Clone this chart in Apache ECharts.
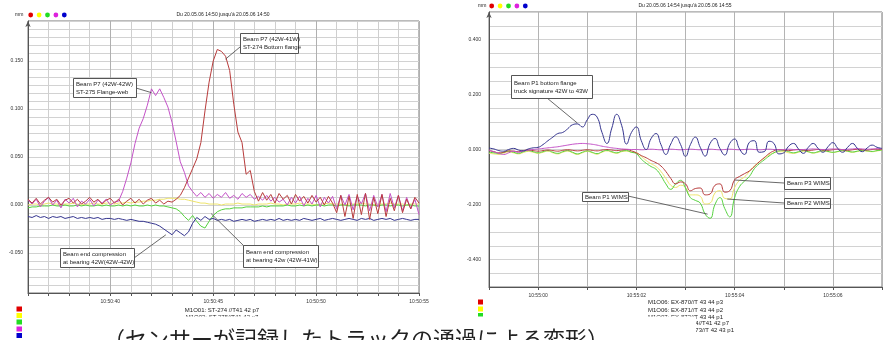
<!DOCTYPE html>
<html>
<head>
<meta charset="utf-8">
<script src="https://cdn.jsdelivr.net/npm/echarts@6/dist/echarts.min.js"></script>
<style>
  html, body { margin: 0; padding: 0; background: #fff; }
  #chart { width: 888px; height: 340px; }
</style>
</head>
<body>
<div id="chart"></div>
<script>
// left recording: 10:50:36 .. 10:50:55, one sample every 0.2 s (mm)
const leftStart = 36, leftStep = 0.2;
const leftRed = [
  0.006,0.002,0.007,0.001,0.005,0.008,0.003,0.006,0.000,0.005,
  0.007,0.002,0.006,0.001,0.004,0.008,0.003,0.006,0.001,0.005,
  0.007,0.002,0.006,0.000,0.004,0.007,0.002,0.006,0.001,0.005,
  0.007,0.002,0.005,0.001,0.004,0.003,0.006,0.010,0.018,0.028,
  0.038,0.048,0.065,0.098,0.128,0.150,0.162,0.160,0.155,0.140,
  0.105,0.076,0.065,0.032,0.036,0.014,0.004,0.013,0.005,0.011,
  0.002,0.012,0.006,0.010,0.001,0.011,0.004,0.009,0.002,0.010,
  0.003,0.008,0.000,0.009,0.002,-0.008,0.010,-0.012,0.009,-0.014,
  0.011,-0.010,0.012,-0.015,0.008,-0.009,0.011,-0.012,0.007,-0.006,
  0.010,-0.008,0.006,-0.004,0.008,0.002
];
const leftMagenta = [
  0.005,0.001,0.006,-0.002,0.004,0.008,0.000,0.005,-0.003,0.006,
  0.002,0.007,-0.002,0.004,0.001,0.006,-0.001,0.005,0.002,0.006,
  0.000,0.003,0.004,0.014,0.028,0.044,0.064,0.080,0.090,0.104,
  0.121,0.114,0.121,0.112,0.102,0.086,0.066,0.045,0.034,0.020,
  0.014,0.009,0.013,0.008,0.012,0.007,0.011,0.008,0.013,0.007,
  0.010,0.006,0.012,0.008,0.011,0.006,0.009,0.005,0.010,0.004,
  0.008,0.003,0.006,0.000,0.008,0.002,0.009,-0.001,0.007,0.001,
  0.010,-0.002,0.008,0.002,0.009,-0.004,0.010,0.000,0.011,-0.005,
  0.009,0.001,0.012,-0.006,0.010,-0.002,0.011,-0.007,0.012,-0.003,
  0.010,-0.006,0.008,-0.004,0.006,-0.010
];
const leftYellow = [
  0.000,0.001,0.001,0.000,0.001,0.002,0.001,0.001,0.000,0.001,
  0.001,0.002,0.001,0.000,0.001,0.001,0.002,0.001,0.001,0.002,
  0.002,0.001,0.002,0.002,0.003,0.002,0.003,0.003,0.004,0.004,
  0.005,0.005,0.006,0.006,0.007,0.007,0.007,0.006,0.006,0.005,
  0.004,0.003,0.002,0.002,0.001,0.001,0.001,0.000,0.001,0.001,
  0.001,0.002,0.001,0.001,0.001,0.000,0.001,0.001,0.001,0.002,
  0.001,0.001,0.000,0.001,0.001,0.001,0.002,0.001,0.001,0.001,
  0.000,0.001,0.001,0.002,0.001,0.001,0.001,0.000,0.001,0.001,
  0.001,0.002,0.001,0.001,0.000,0.001,0.001,0.001,0.002,0.001,
  0.001,0.001,0.000,0.001,0.001,0.001
];
const leftGreen = [
  -0.003,-0.002,-0.002,-0.001,-0.001,-0.001,0.000,-0.001,-0.001,0.000,
  -0.001,-0.001,0.000,-0.001,0.000,-0.001,-0.001,0.000,-0.001,0.000,
  -0.001,-0.001,0.000,-0.001,0.000,-0.001,0.000,-0.001,-0.001,0.000,
  -0.001,0.000,-0.001,-0.001,-0.002,-0.003,-0.004,-0.007,-0.012,-0.016,
  -0.011,-0.017,-0.022,-0.024,-0.017,-0.011,-0.007,-0.005,-0.004,-0.004,
  -0.003,-0.003,-0.003,-0.002,-0.002,-0.002,-0.002,-0.001,-0.002,-0.001,
  -0.001,-0.001,-0.001,0.000,-0.001,-0.001,0.000,-0.001,0.000,-0.001,
  0.000,0.000,-0.001,0.000,0.000,-0.001,0.000,0.000,-0.001,0.000,
  0.000,0.000,-0.001,0.000,0.000,-0.001,0.000,0.000,-0.001,0.000,
  0.000,-0.001,0.000,0.000,-0.001,-0.001
];
const leftBlue = [
  -0.012,-0.013,-0.011,-0.013,-0.012,-0.014,-0.012,-0.013,-0.012,-0.014,
  -0.013,-0.012,-0.014,-0.013,-0.014,-0.013,-0.014,-0.013,-0.015,-0.014,
  -0.014,-0.015,-0.014,-0.015,-0.016,-0.015,-0.016,-0.017,-0.017,-0.018,
  -0.019,-0.020,-0.022,-0.025,-0.028,-0.031,-0.026,-0.029,-0.032,-0.028,
  -0.019,-0.013,-0.016,-0.012,-0.015,-0.014,-0.016,-0.015,-0.016,-0.015,
  -0.017,-0.016,-0.015,-0.016,-0.015,-0.017,-0.016,-0.015,-0.016,-0.015,
  -0.016,-0.014,-0.016,-0.015,-0.016,-0.015,-0.016,-0.014,-0.015,-0.016,
  -0.015,-0.014,-0.016,-0.015,-0.014,-0.015,-0.016,-0.015,-0.014,-0.015,
  -0.016,-0.014,-0.015,-0.014,-0.016,-0.015,-0.014,-0.015,-0.014,-0.016,
  -0.015,-0.014,-0.015,-0.016,-0.015,-0.015
];

// right recording: 10:54:59 .. 10:55:07, one sample every 0.1 s (mm)
const rightStart = 59, rightStep = 0.1;
const rightNavy = [
  0.005,0.002,-0.004,-0.006,0.000,0.004,-0.002,-0.005,0.002,0.006,
  0.008,0.018,0.032,0.045,0.058,0.062,0.075,0.090,0.093,0.082,
  0.108,0.128,0.118,0.062,0.022,0.078,0.128,0.088,0.020,0.062,
  0.082,0.032,0.000,0.040,0.058,0.018,-0.018,0.020,0.046,0.018,
  -0.025,0.018,0.045,0.008,-0.024,0.022,0.040,0.004,-0.020,0.022,
  0.038,0.002,-0.018,0.026,0.032,-0.010,-0.008,0.030,0.022,-0.016,
  -0.012,0.012,0.022,0.002,-0.014,0.008,0.022,0.004,-0.010,0.010,
  0.025,0.004,-0.010,0.008,0.022,0.004,-0.008,0.006,0.016,0.008,
  0.004
];
const rightMagenta = [
  -0.002,-0.008,-0.014,-0.018,-0.012,-0.006,-0.010,-0.005,-0.002,0.000,
  0.002,0.004,0.006,0.008,0.010,0.013,0.016,0.019,0.021,0.022,
  0.021,0.019,0.016,0.012,0.009,0.006,0.004,0.002,0.001,0.000,
  0.000,-0.001,0.000,0.001,0.000,-0.001,0.000,0.001,0.000,-0.001,
  0.000,0.001,0.000,-0.001,0.000,0.001,0.000,-0.001,0.000,0.001,
  0.000,-0.001,0.000,0.001,0.000,-0.001,0.000,0.001,0.000,-0.001,
  0.000,0.001,0.000,-0.001,0.000,0.001,0.002,0.001,0.000,0.001,
  0.002,0.001,0.000,0.001,0.002,0.003,0.002,0.001,0.002,0.003,
  0.003
];
const rightRed = [
  -0.004,-0.008,-0.012,-0.010,-0.005,-0.006,-0.008,-0.004,-0.002,-0.004,
  -0.006,-0.004,-0.002,-0.004,-0.006,-0.003,-0.001,-0.003,-0.005,-0.003,
  -0.001,-0.003,-0.005,-0.002,0.000,-0.002,-0.004,-0.002,0.000,-0.005,
  -0.012,-0.022,-0.030,-0.040,-0.048,-0.060,-0.080,-0.105,-0.125,-0.118,
  -0.125,-0.150,-0.142,-0.140,-0.165,-0.162,-0.130,-0.125,-0.155,-0.150,
  -0.110,-0.098,-0.088,-0.078,-0.062,-0.045,-0.030,-0.015,-0.005,0.000,
  -0.002,-0.004,-0.002,0.000,-0.002,-0.004,-0.002,0.000,-0.002,-0.003,
  -0.001,0.001,-0.001,-0.003,-0.001,0.001,-0.001,-0.002,0.000,0.001,
  0.000
];
const rightYellow = [
  -0.014,-0.016,-0.018,-0.013,-0.009,-0.012,-0.016,-0.011,-0.007,-0.010,
  -0.014,-0.010,-0.006,-0.012,-0.016,-0.010,-0.006,-0.012,-0.018,-0.012,
  -0.007,-0.012,-0.017,-0.010,-0.005,-0.010,-0.014,-0.008,-0.006,-0.010,
  -0.012,-0.025,-0.040,-0.052,-0.062,-0.080,-0.105,-0.130,-0.138,-0.130,
  -0.138,-0.165,-0.165,-0.170,-0.198,-0.195,-0.158,-0.150,-0.178,-0.180,
  -0.138,-0.112,-0.100,-0.080,-0.060,-0.045,-0.032,-0.020,-0.012,-0.008,
  -0.008,-0.012,-0.014,-0.010,-0.006,-0.009,-0.013,-0.010,-0.006,-0.008,
  -0.011,-0.008,-0.005,-0.007,-0.010,-0.007,-0.004,-0.006,-0.008,-0.005,
  -0.003
];
const rightGreen = [
  -0.010,-0.012,-0.015,-0.010,-0.006,-0.010,-0.014,-0.008,-0.004,-0.008,
  -0.012,-0.008,-0.004,-0.010,-0.014,-0.008,-0.004,-0.010,-0.016,-0.010,
  -0.005,-0.010,-0.015,-0.008,-0.003,-0.008,-0.012,-0.006,-0.004,-0.010,
  -0.015,-0.035,-0.050,-0.062,-0.072,-0.095,-0.125,-0.145,-0.125,-0.112,
  -0.140,-0.175,-0.185,-0.195,-0.235,-0.250,-0.200,-0.175,-0.215,-0.245,
  -0.175,-0.135,-0.115,-0.098,-0.070,-0.052,-0.038,-0.024,-0.012,-0.005,
  -0.004,-0.008,-0.012,-0.008,-0.004,-0.008,-0.012,-0.008,-0.004,-0.007,
  -0.010,-0.007,-0.003,-0.006,-0.009,-0.006,-0.003,-0.005,-0.007,-0.004,
  -0.002
];

const legendDots = ['#e00000', '#ffff00', '#22dd22', '#dd22dd', '#0000cc'];
const leftTitle = "Du 20.05.06 14:50 jusqu'à 20.05.06 14:50";
const rightTitle = "Du 20.05.06 14:54 jusqu'à 20.05.06 14:55";
const leftChannels = ['M1O01: ST-274 //T41 42 p7', 'M1O02: ST-275//T41 42 p7'];
const rightChannels = ['M1O06: EX-870//T 43 44 p3', 'M1O06: EX-871//T 43 44 p2', 'M1O07: EX-872//T 43 44 p1',
  'M1O08: ST-274//T41 42 p7', 'M1O09: EX-873//T 42 43 p1'];
const caption = '（センサーが記録したトラックの通過による変形）';

const colRed = '#b83c3c', colMag = '#c452c8', colYel = '#eee46a', colGrn = '#55d23e', colNavy = '#35358f';
const FONT = '"Liberation Sans", Arial, sans-serif';

function pts(start, step, vals) {
  return vals.map((v, i) => [+(start + i * step).toFixed(2), v]);
}
function line(grid, start, step, vals, color, smooth) {
  return {
    type: 'line', xAxisIndex: grid, yAxisIndex: grid,
    data: pts(start, step, vals), showSymbol: false, smooth: smooth,
    lineStyle: { color: color, width: 1 }, itemStyle: { color: color }
  };
}
const onMult = (v, m) => Math.abs(v / m - Math.round(v / m)) < 1e-6;

const chart = echarts.init(document.getElementById('chart'), null, { renderer: 'canvas' });

const axisText = { fontSize: 5, color: '#333', fontFamily: FONT };
chart.setOption({
  animation: false,
  backgroundColor: '#fff',
  grid: [
    { left: 28, top: 21, width: 391, height: 272, show: true, borderColor: '#777', borderWidth: 1 },
    { left: 489, top: 12, width: 393, height: 275, show: true, borderColor: '#777', borderWidth: 1 }
  ],
  xAxis: [
    {
      type: 'value', gridIndex: 0, min: 36, max: 55, interval: 1,
      axisLine: { onZero: false, lineStyle: { color: '#555' } },
      axisTick: { length: 3, lineStyle: { color: '#555' } },
      axisLabel: Object.assign({ margin: 6, formatter: v => v % 5 === 0 ? '10:50:' + v : '' }, axisText),
      splitLine: { lineStyle: { color: ['#cfcfcf', '#cfcfcf', '#cfcfcf', '#cfcfcf', '#b0b0b0'] } }
    },
    {
      type: 'value', gridIndex: 1, min: 59, max: 67, interval: 1,
      axisLine: { onZero: false, lineStyle: { color: '#555' } },
      axisTick: { length: 3, lineStyle: { color: '#555' } },
      axisLabel: Object.assign({ margin: 6, formatter: v => (v >= 60 && v % 2 === 0) ? '10:55:' + String(v - 60).padStart(2, '0') : '' }, axisText),
      splitLine: { lineStyle: { color: '#b4b4b4' } }
    }
  ],
  yAxis: [
    {
      type: 'value', gridIndex: 0, min: -11 / 120, max: 23 / 120, interval: 1 / 120,
      axisLine: { show: true, symbol: ['none', 'arrow'], symbolSize: [4, 6], lineStyle: { color: '#555' } },
      axisTick: { show: false },
      axisLabel: Object.assign({ margin: 5, formatter: v => onMult(v, 0.05) ? (Math.round(v * 20) / 20).toFixed(3) : '' }, axisText),
      splitLine: { lineStyle: { color: '#d2d2d2' } }
    },
    {
      type: 'value', gridIndex: 1, min: -0.5, max: 0.5, interval: 0.05,
      axisLine: { show: true, symbol: ['none', 'arrow'], symbolSize: [4, 6], lineStyle: { color: '#555' } },
      axisTick: { show: false },
      axisLabel: Object.assign({ margin: 8, formatter: v => onMult(v, 0.2) ? (Math.round(v * 5) / 5).toFixed(3) : '' }, axisText),
      splitLine: { lineStyle: { color: '#d2d2d2' } }
    }
  ],
  series: [
    line(0, leftStart, leftStep, leftYellow, colYel, false),
    line(0, leftStart, leftStep, leftGreen, colGrn, false),
    line(0, leftStart, leftStep, leftBlue, colNavy, false),
    line(0, leftStart, leftStep, leftMagenta, colMag, false),
    line(0, leftStart, leftStep, leftRed, colRed, false),
    line(1, rightStart, rightStep, rightYellow, colYel, 0.5),
    line(1, rightStart, rightStep, rightGreen, colGrn, 0.5),
    line(1, rightStart, rightStep, rightRed, colRed, 0.5),
    line(1, rightStart, rightStep, rightMagenta, colMag, 0.5),
    line(1, rightStart, rightStep, rightNavy, colNavy, 0.5)
  ]
});

// ---- decorations: header, channel list, caption, callouts
const g = [];
function txt(x, y, s, size, align, z, family) {
  g.push({ type: 'text', z: z || 60, style: { text: s, x: x, y: y, fill: '#222',
    font: size + 'px ' + (family || FONT), align: align || 'left', verticalAlign: 'middle' } });
}
function header(mmX, y, dot0, titleX, title) {
  txt(mmX, y, 'mm', 5);
  legendDots.forEach((c, i) => g.push({ type: 'circle', z: 60, shape: { cx: dot0 + i * 8.4, cy: y, r: 2.4 }, style: { fill: c } }));
  txt(titleX, y, title, 5, 'center');
}
header(15, 15, 30.7, 223, leftTitle);
header(478, 6, 491.7, 685, rightTitle);

// channel colour squares
[306.5, 313, 319.5, 326.5, 333].forEach((y, i) =>
  g.push({ type: 'rect', z: 60, shape: { x: 16.5, y: y, width: 5.5, height: 5 }, style: { fill: legendDots[i] } }));
[299.5, 306.5, 313].forEach((y, i) =>
  g.push({ type: 'rect', z: 40, shape: { x: 478, y: y, width: 5, height: 5 }, style: { fill: legendDots[i] } }));

txt(222, 310, leftChannels[0], 6, 'center', 40);
txt(222, 317.5, leftChannels[1], 6, 'center', 40);
txt(648, 302.7, rightChannels[0], 6, 'left', 40);
txt(648, 310, rightChannels[1], 6, 'left', 40);
txt(648, 317.5, rightChannels[2], 6, 'left', 40);
txt(729, 323.7, rightChannels[3], 6, 'right', 40);
txt(734, 330.7, rightChannels[4], 6, 'right', 40);

// caption band covers the lower channel lines
g.push({ type: 'rect', z: 50, shape: { x: 100, y: 316.5, width: 596, height: 24 }, style: { fill: '#fff' } });
txt(103, 339, caption, 22, 'left', 55, '"Noto Sans CJK JP", sans-serif');

// callouts: box, text, leader line to a point on the curve
function callout(grid, box, lines, from, at) {
  const p = chart.convertToPixel({ gridIndex: grid }, at);
  g.push({ type: 'line', z: 70, shape: { x1: from[0], y1: from[1], x2: p[0], y2: p[1] }, style: { stroke: '#444', lineWidth: 0.8 } });
  g.push({ type: 'rect', z: 71, shape: { x: box[0] + 0.5, y: box[1] + 0.5, width: box[2], height: box[3] },
    style: { fill: '#fff', stroke: '#555', lineWidth: 1 } });
  g.push({ type: 'text', z: 72, style: { text: lines.join('\n'), x: box[0] + 3, y: box[1] + box[3] / 2 + 0.5,
    fill: '#222', font: '6px ' + FONT, lineHeight: 8, align: 'left', verticalAlign: 'middle' } });
}
callout(0, [240, 33, 58, 20], ['Beam P7 (42W-41W)', 'ST-274 Bottom flange'], [240, 47], [45.6, 0.152]);
callout(0, [73, 78, 63, 19], ['Beam P7 (42W-42W)', 'ST-275 Flange-web'], [136, 88], [42.0, 0.117]);
callout(0, [60, 248, 74, 19], ['Beam end compression', 'at bearing 42W(42W-42W)'], [134, 258], [42.7, -0.031]);
callout(0, [243, 245, 75, 22], ['Beam end compression', 'at bearing 42w (42W-41W)'], [246, 248], [44.9, -0.009]);
callout(1, [511, 75, 81, 23], ['Beam P1 bottom flange', 'truck signature 42W to 43W'], [547, 98], [60.8, 0.096]);
callout(1, [582, 192, 46, 9], ['Beam P1 WIMS'], [628, 196], [63.45, -0.235]);
callout(1, [784, 177, 46, 12], ['Beam P3 WIMS'], [784, 183], [64.0, -0.111]);
callout(1, [784, 198, 46, 10], ['Beam P2 WIMS'], [784, 203], [63.85, -0.18]);

chart.setOption({ graphic: g });
</script>
</body>
</html>
